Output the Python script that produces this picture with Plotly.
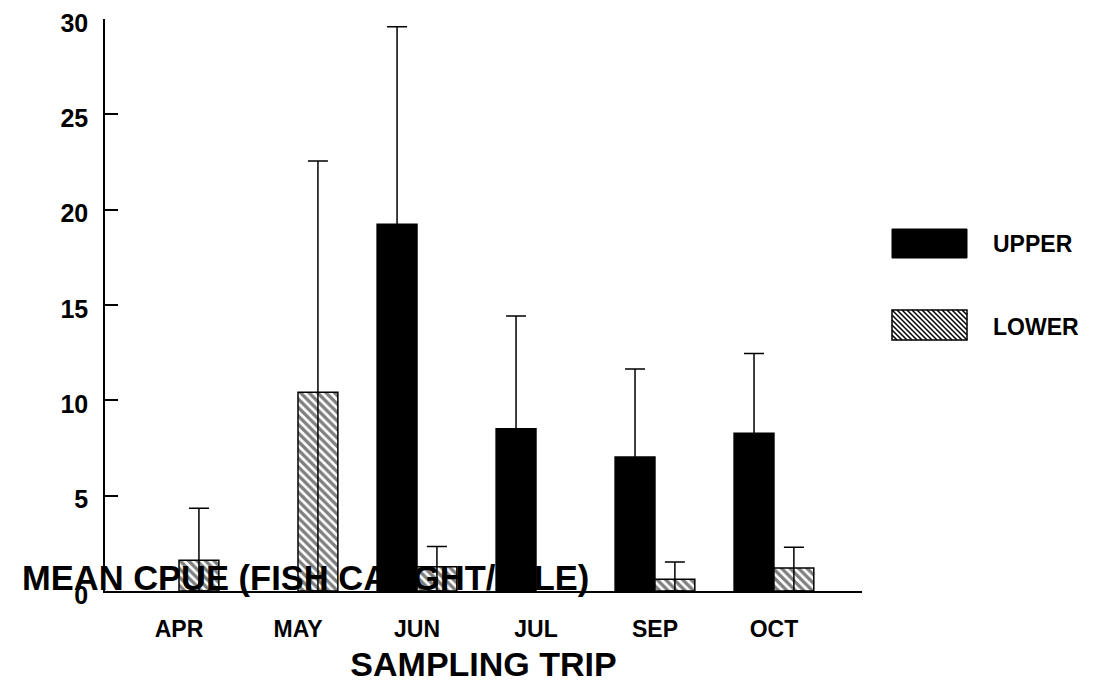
import plotly.graph_objects as go

# ---- data ----
months = ["APR", "MAY", "JUN", "JUL", "SEP", "OCT"]
upper_mean = [None, None, 19.24, 8.51, 7.03, 8.27]
upper_se = [None, None, 10.36, 5.91, 4.61, 4.19]
lower_mean = [1.61, 10.42, 1.27, None, 0.61, 1.21]
lower_se = [2.73, 12.13, 1.07, None, 0.91, 1.08]
y_ticks = [0, 5, 10, 15, 20, 25, 30]

FONT = "Liberation Sans, Arial, Helvetica, sans-serif"

OFF = 8  # page body margin
W, H = 1095, 696
L, R, T, B = 105, 862, 19, 591  # plot area in page pixels


def px_to_paper(x, y):
    return (x - L) / (R - L), (B - y) / (B - T)


fig = go.Figure()

fig.add_trace(go.Bar(
    x=months, y=upper_mean, name="UPPER",
    marker=dict(color="black", line=dict(color="black", width=1.5)),
    error_y=dict(type="data", symmetric=False, array=upper_se,
                 arrayminus=upper_mean, color="black", thickness=1.5, width=10),
    showlegend=False,
))
fig.add_trace(go.Bar(
    x=months, y=lower_mean, name="LOWER",
    marker=dict(color="white", line=dict(color="black", width=1.5),
                pattern=dict(shape="\\", size=6, solidity=0.55,
                             fgcolor="black", bgcolor="white")),
    error_y=dict(type="data", symmetric=False, array=lower_se,
                 arrayminus=lower_mean, color="black", thickness=1.5, width=10),
    showlegend=False,
))

# ---- custom legend (large swatches) ----
shapes = []
x0, y0 = px_to_paper(892, 229)
x1, y1 = px_to_paper(967, 258)
shapes.append(dict(type="rect", xref="paper", yref="paper", x0=x0, x1=x1,
                   y0=y1, y1=y0, fillcolor="black", line=dict(color="black", width=1)))

hx0, hy0, hx1, hy1 = 892, 310, 967, 340
segs = []
step = 5
d = -(hy1 - hy0)
while d < (hx1 - hx0):
    t0 = max(0, -d)
    t1 = min(hy1 - hy0, (hx1 - hx0) - d)
    if t1 > t0:
        ax, ay = px_to_paper(hx0 + d + t0, hy0 + t0)
        bx, by = px_to_paper(hx0 + d + t1, hy0 + t1)
        segs.append(f"M{ax},{ay} L{bx},{by}")
    d += step
shapes.append(dict(type="path", xref="paper", yref="paper", path=" ".join(segs),
                   line=dict(color="black", width=1.5)))
rx0, ry0 = px_to_paper(hx0, hy0)
rx1, ry1 = px_to_paper(hx1, hy1)
shapes.append(dict(type="rect", xref="paper", yref="paper", x0=rx0, x1=rx1,
                   y0=ry1, y1=ry0, line=dict(color="black", width=1.5)))

annotations = []
for label, cy in [("UPPER", 244), ("LOWER", 327)]:
    ax, ay = px_to_paper(991, cy)
    annotations.append(dict(text=label, x=ax, y=ay, xref="paper", yref="paper",
                            xanchor="left", yanchor="middle", showarrow=False,
                            font=dict(family=FONT, size=23, color="black", weight="bold")))

# y-axis title (placed horizontally at the base, as in the reference)
tx, ty = px_to_paper(20, 578)
annotations.append(dict(text="MEAN CPUE (FISH CAUGHT/MILE)", x=tx, y=ty,
                        xref="paper", yref="paper", xanchor="left", yanchor="middle",
                        showarrow=False,
                        font=dict(family=FONT, size=34.5, color="black", weight="bold")))

fig.update_layout(
    width=W - OFF, height=H - OFF,
    margin=dict(l=L - OFF, r=W - R, t=T - OFF, b=H - B, pad=0, autoexpand=False),
    plot_bgcolor="white", paper_bgcolor="white",
    barmode="group", bargap=0.33, bargroupgap=0,
    shapes=shapes, annotations=annotations,
    showlegend=False,
    font=dict(family=FONT, color="black"),
)

fig.update_xaxes(
    range=[-0.622, 5.74], showline=True, linecolor="black", linewidth=1.5,
    ticks="", showgrid=False, zeroline=False, automargin=False,
    tickfont=dict(family=FONT, size=23, color="black", weight="bold"),
    ticklabelstandoff=17,
    title=dict(text="SAMPLING TRIP", standoff=11,
               font=dict(family=FONT, size=34, color="black", weight="bold")),
)
fig.update_yaxes(
    range=[0, 30], tickvals=y_ticks, showline=True, linecolor="black", linewidth=1.5,
    ticks="inside", ticklen=13, tickwidth=1.5, tickcolor="black",
    showgrid=False, zeroline=False, automargin=False,
    tickfont=dict(family=FONT, size=25, color="black", weight="bold"),
    ticklabelstandoff=10, ticklabelshift=4, ticklabeloverflow="allow",
)

fig.write_html("out.html")
